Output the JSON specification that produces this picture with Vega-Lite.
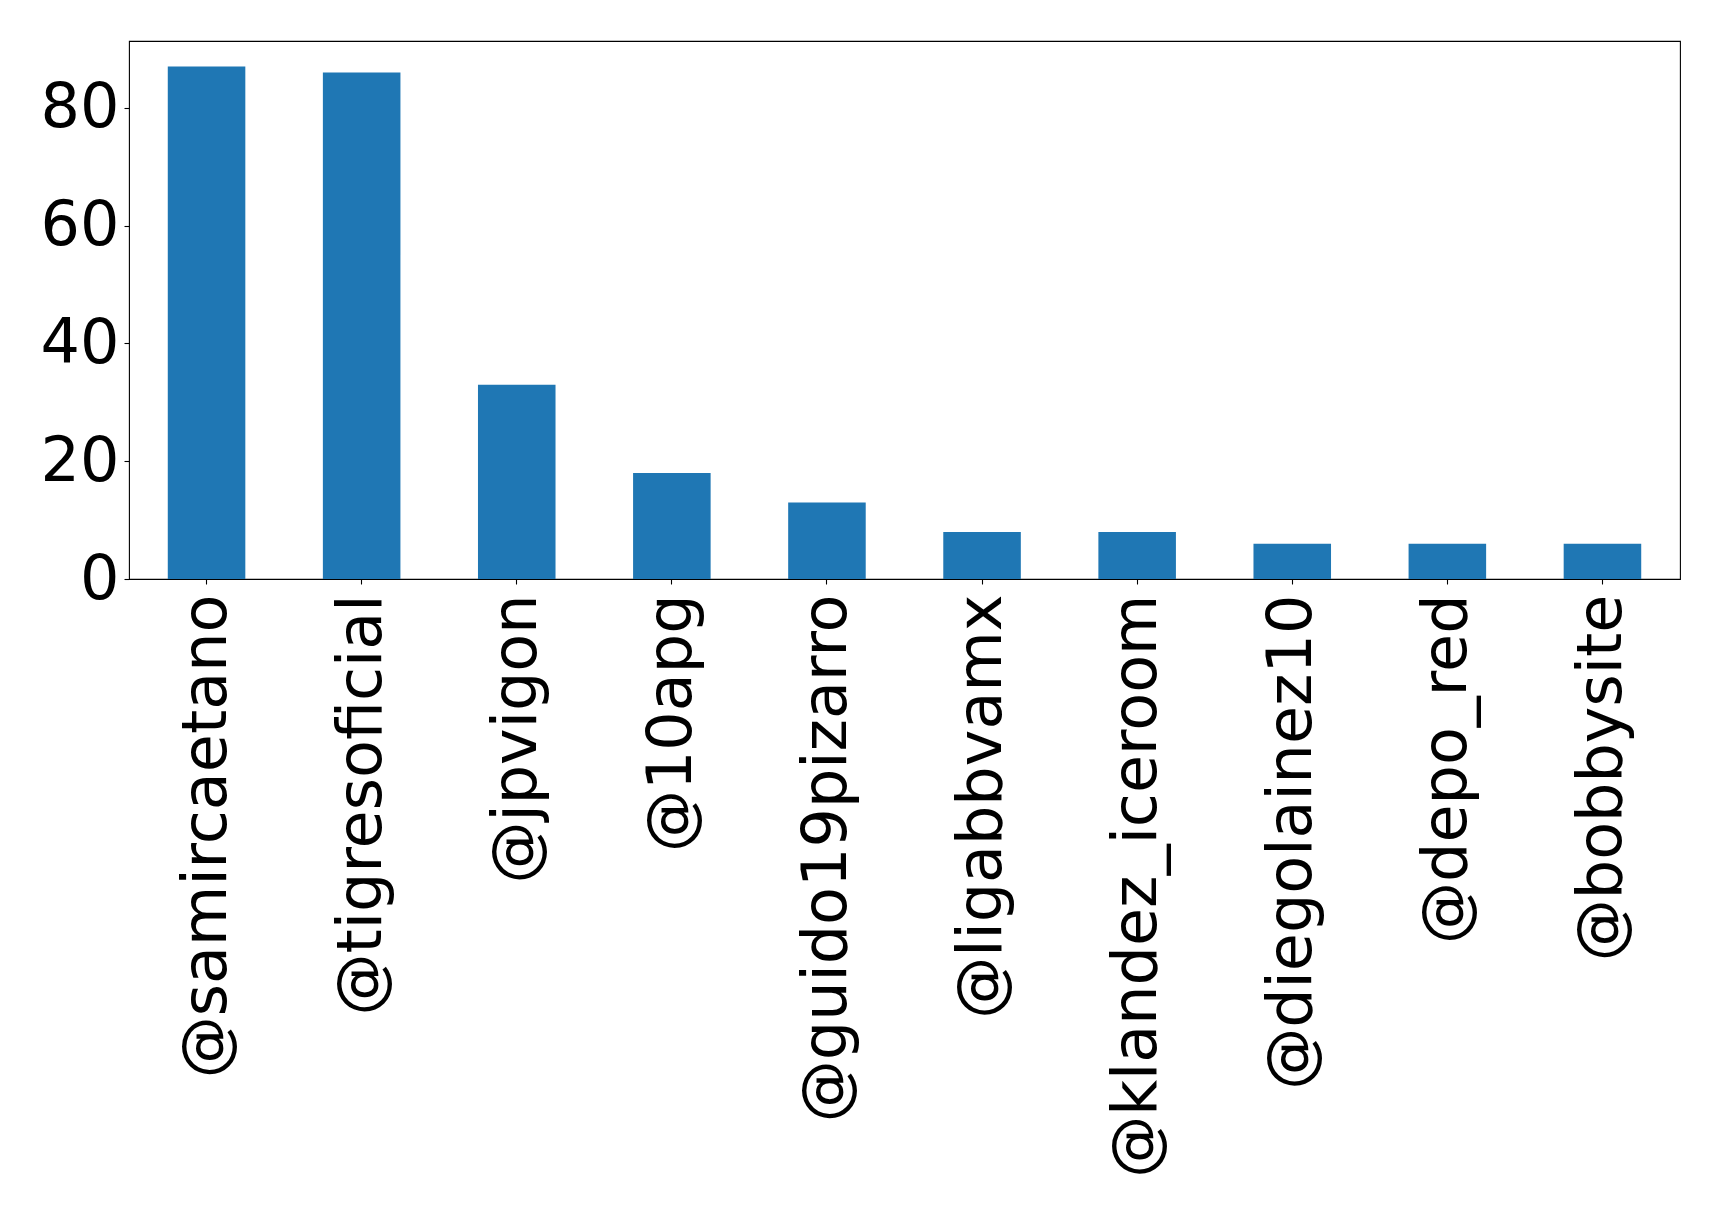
{
  "$schema": "https://vega.github.io/schema/vega-lite/v6.json",
  "autosize": {"type": "none"},
  "width": 1551,
  "height": 538,
  "padding": {"left": 129, "top": 41, "right": 39, "bottom": 637},
  "background": "white",
  "config": {
    "view": {"stroke": "black", "strokeWidth": 1.1},
    "axis": {
      "domain": false,
      "grid": false,
      "ticks": true,
      "tickColor": "black",
      "tickSize": 5,
      "tickWidth": 1.1,
      "labelFont": "DejaVu Sans",
      "labelFontSize": 62,
      "labelColor": "black",
      "labelPadding": 5,
      "labelOverlap": false,
      "labelLimit": 0,
      "title": null
    }
  },
  "data": {
    "values": [
      {"user": "@samircaetano", "count": 87},
      {"user": "@tigresoficial", "count": 86},
      {"user": "@jpvigon", "count": 33},
      {"user": "@10apg", "count": 18},
      {"user": "@guido19pizarro", "count": 13},
      {"user": "@ligabbvamx", "count": 8},
      {"user": "@klandez_iceroom", "count": 8},
      {"user": "@diegolainez10", "count": 6},
      {"user": "@depo_red", "count": 6},
      {"user": "@bobbysite", "count": 6}
    ]
  },
  "mark": {"type": "bar", "color": "#1f77b4"},
  "encoding": {
    "x": {
      "field": "user",
      "type": "nominal",
      "sort": null,
      "scale": {"paddingInner": 0.5, "paddingOuter": 0.25},
      "axis": {"labelAngle": -90, "labelFlush": false, "labelLimit": 0, "labelPadding": 10}
    },
    "y": {
      "field": "count",
      "type": "quantitative",
      "scale": {"domain": [0, 91.35], "nice": false},
      "axis": {"values": [0, 20, 40, 60, 80], "labelFlush": false}
    }
  }
}
